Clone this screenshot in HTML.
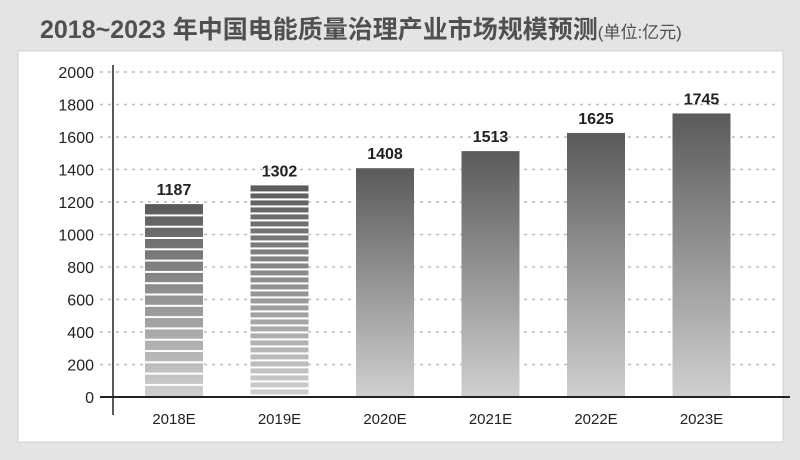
<!DOCTYPE html>
<html><head><meta charset="utf-8"><style>
body{margin:0;width:800px;height:455px;background:#e4e4e4;overflow:hidden;font-family:"Liberation Sans","Noto Sans CJK SC",sans-serif}
</style></head><body>
<svg width="800" height="455" xmlns="http://www.w3.org/2000/svg">
<defs>
<linearGradient id="g" x1="0" y1="0" x2="0" y2="1"><stop offset="0" stop-color="#5a5a5a"/><stop offset="1" stop-color="#cfcfcf"/></linearGradient>
</defs>
<text x="40" y="38" font-size="25" font-weight="bold" fill="#505050">2018~2023 年中国电能质量治理产业市场规模预测<tspan font-size="17" font-weight="normal">(单位:亿元)</tspan></text>
<rect x="18" y="51" width="765" height="391" fill="#fff" stroke="#d0d0d0"/>
<g id="grid"></g><g id="bars"></g>
<line x1="113" y1="65" x2="113" y2="415" stroke="#222" stroke-width="1.5"/>
<line x1="100" y1="397" x2="790" y2="397" stroke="#222" stroke-width="2"/>
</svg>
<script>
const categories=["2018E","2019E","2020E","2021E","2022E","2023E"];
const values=[1187,1302,1408,1513,1625,1745];
const yTicks=[0,200,400,600,800,1000,1200,1400,1600,1800,2000];
const NS="http://www.w3.org/2000/svg";
const y=v=>397-v*0.1625;
const x=i=>145+i*105.5;
const svg=document.querySelector('svg'),grid=document.getElementById('grid'),bars=document.getElementById('bars');
function mk(t,a,p){const e=document.createElementNS(NS,t);for(const k in a)e.setAttribute(k,a[k]);(p||svg).appendChild(e);return e;}
yTicks.forEach(v=>{
 if(v>0){const l=mk('line',{x1:100,x2:775,y1:y(v),y2:y(v),stroke:'#bbb','stroke-dasharray':'3 5','stroke-width':1.5},grid);
 
 }
 const t=mk('text',{x:94,y:y(v)+6,'text-anchor':'end','font-size':16,fill:'#222'});t.textContent=v;
 
 
});
categories.forEach((c,i)=>{
 const bx=x(i),by=y(values[i]),h=397-by;
 const r=mk('rect',{x:bx,y:by,width:58,height:h-1,fill:'url(#g)'},bars);
 
 
 if(i<2){const step=i==0?11.3:7;for(let s=by+step;s<396;s+=step){const w=mk('rect',{x:bx,y:s-1,width:58,height:2,fill:'#fff'},bars);
 
 }}
 const vt=mk('text',{x:bx+29,y:by-9,'text-anchor':'middle','font-size':16,'font-weight':'bold',fill:'#222'});vt.textContent=values[i];
 
 
 const ct=mk('text',{x:bx+29,y:424,'text-anchor':'middle','font-size':15,fill:'#222'});ct.textContent=c;
 
 
});
</script>
</body></html>
